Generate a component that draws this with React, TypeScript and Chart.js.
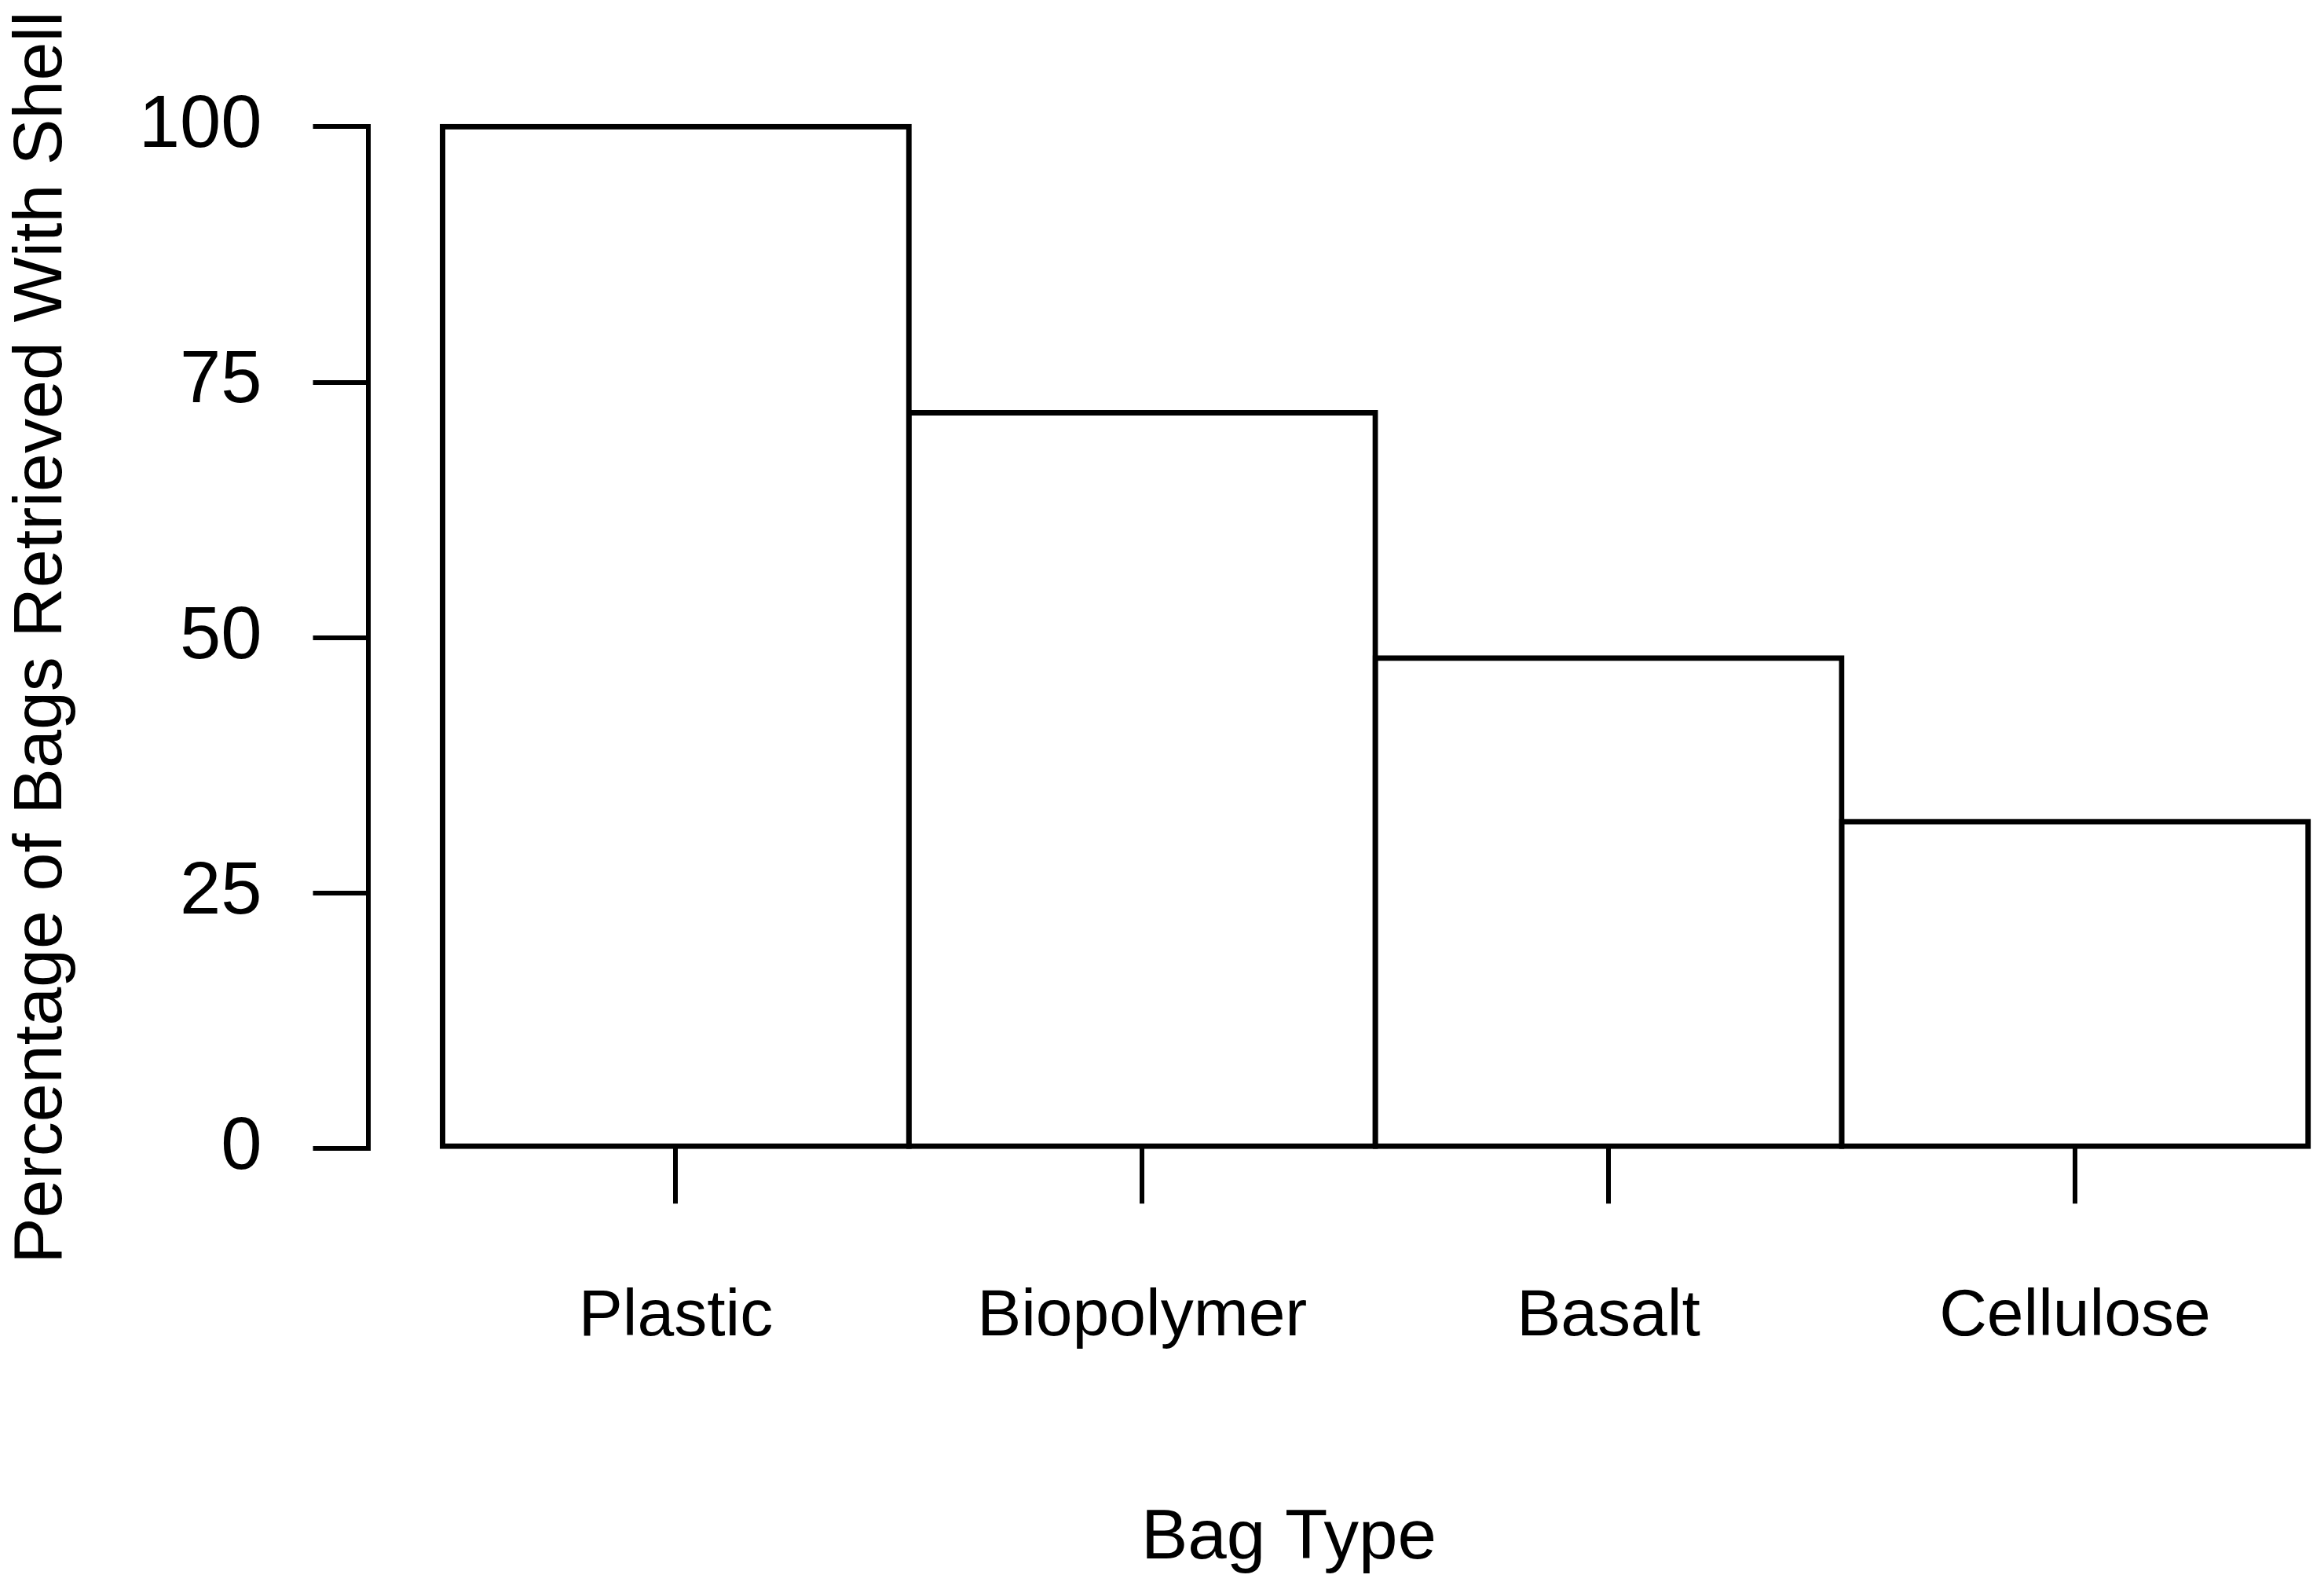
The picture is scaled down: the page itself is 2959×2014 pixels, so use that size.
import React, { useEffect, useRef } from 'react';
import { Chart, registerables } from 'chart.js';

Chart.register(...registerables);

// ---- data ----
const categories = ['Plastic', 'Biopolymer', 'Basalt', 'Cellulose'];
const percentRetrieved = [100, 72, 48, 32];
const yTickValues = [0, 25, 50, 75, 100];
const xAxisTitle = 'Bag Type';
const yAxisTitle = 'Percentage of Bags Retrieved With Shell';

// ---- layout / style ----
const W = 2959;
const H = 2014;
const FAMILY = "'Liberation Sans', Arial, Helvetica, sans-serif";
const PLOT_TOP = 161.3;
const PLOT_BOTTOM = 1462.3;
const Y_AXIS_X = 468.5;
const X_MIN = 0.34;
const X_MAX = 4.289;
const RIGHT_PAD = 145.5;

export default function App() {
  const ref = useRef<HTMLCanvasElement>(null);

  useEffect(() => {
    const canvas = ref.current;
    if (!canvas) return;
    const chart = new Chart(canvas, {
      type: 'bar',
      data: {
        datasets: [
          {
            data: categories.map((c, i) => ({ x: i + 1, y: percentRetrieved[i] })),
            backgroundColor: '#ffffff',
            borderColor: '#000000',
            borderWidth: 7,
            borderSkipped: false,
            inflateAmount: 3.5,
            barPercentage: 1,
            categoryPercentage: 1,
            clip: false,
          } as any,
        ],
      },
      options: {
        animation: false,
        responsive: false,
        maintainAspectRatio: false,
        devicePixelRatio: 1,
        events: [],
        layout: { padding: { top: PLOT_TOP, right: RIGHT_PAD, bottom: 0, left: 0 } },
        plugins: {
          legend: { display: false },
          tooltip: { enabled: false },
        },
        scales: {
          x: {
            type: 'linear',
            min: X_MIN,
            max: X_MAX,
            offset: false,
            afterBuildTicks: (s: any) => {
              s.ticks = categories.map((_, i) => ({ value: i + 1 }));
            },
            afterFit: (s: any) => {
              s.height = H - PLOT_BOTTOM;
            },
            grid: {
              display: true,
              offset: false,
              drawOnChartArea: false,
              drawTicks: true,
              tickLength: 70,
              lineWidth: 6,
              color: '#000000',
            },
            border: { display: false },
            ticks: {
              autoSkip: false,
              maxRotation: 0,
              minRotation: 0,
              padding: 103,
              color: '#000000',
              font: { family: FAMILY, size: 84, lineHeight: 1 },
              callback: (v: any) => categories[Math.round(Number(v)) - 1] ?? '',
            },
            title: {
              display: true,
              text: xAxisTitle,
              color: '#000000',
              font: { family: FAMILY, size: 89, lineHeight: 1 },
              padding: { top: 0, bottom: 10 },
            },
          },
          y: {
            type: 'linear',
            min: 0,
            max: 100,
            afterBuildTicks: (s: any) => {
              s.ticks = yTickValues.map((v) => ({ value: v }));
            },
            afterFit: (s: any) => {
              s.width = Y_AXIS_X;
            },
            grid: {
              display: true,
              drawOnChartArea: false,
              drawTicks: true,
              tickLength: 70,
              lineWidth: 6,
              color: '#000000',
            },
            border: { display: true, width: 6, color: '#000000' },
            ticks: {
              padding: 65,
              color: '#000000',
              font: { family: FAMILY, size: 94, lineHeight: 1 },
            },
            title: {
              display: true,
              text: yAxisTitle,
              color: '#000000',
              font: { family: FAMILY, size: 88, lineHeight: 1 },
              padding: { top: 10, bottom: 0 },
            },
          },
        },
      } as any,
    });
    return () => chart.destroy();
  }, []);

  return (
    <div style={{ position: 'absolute', left: 0, top: 0, width: W, height: H, background: '#ffffff' }}>
      <canvas ref={ref} width={W} height={H} style={{ display: 'block', width: W, height: H }} />
    </div>
  );
}
